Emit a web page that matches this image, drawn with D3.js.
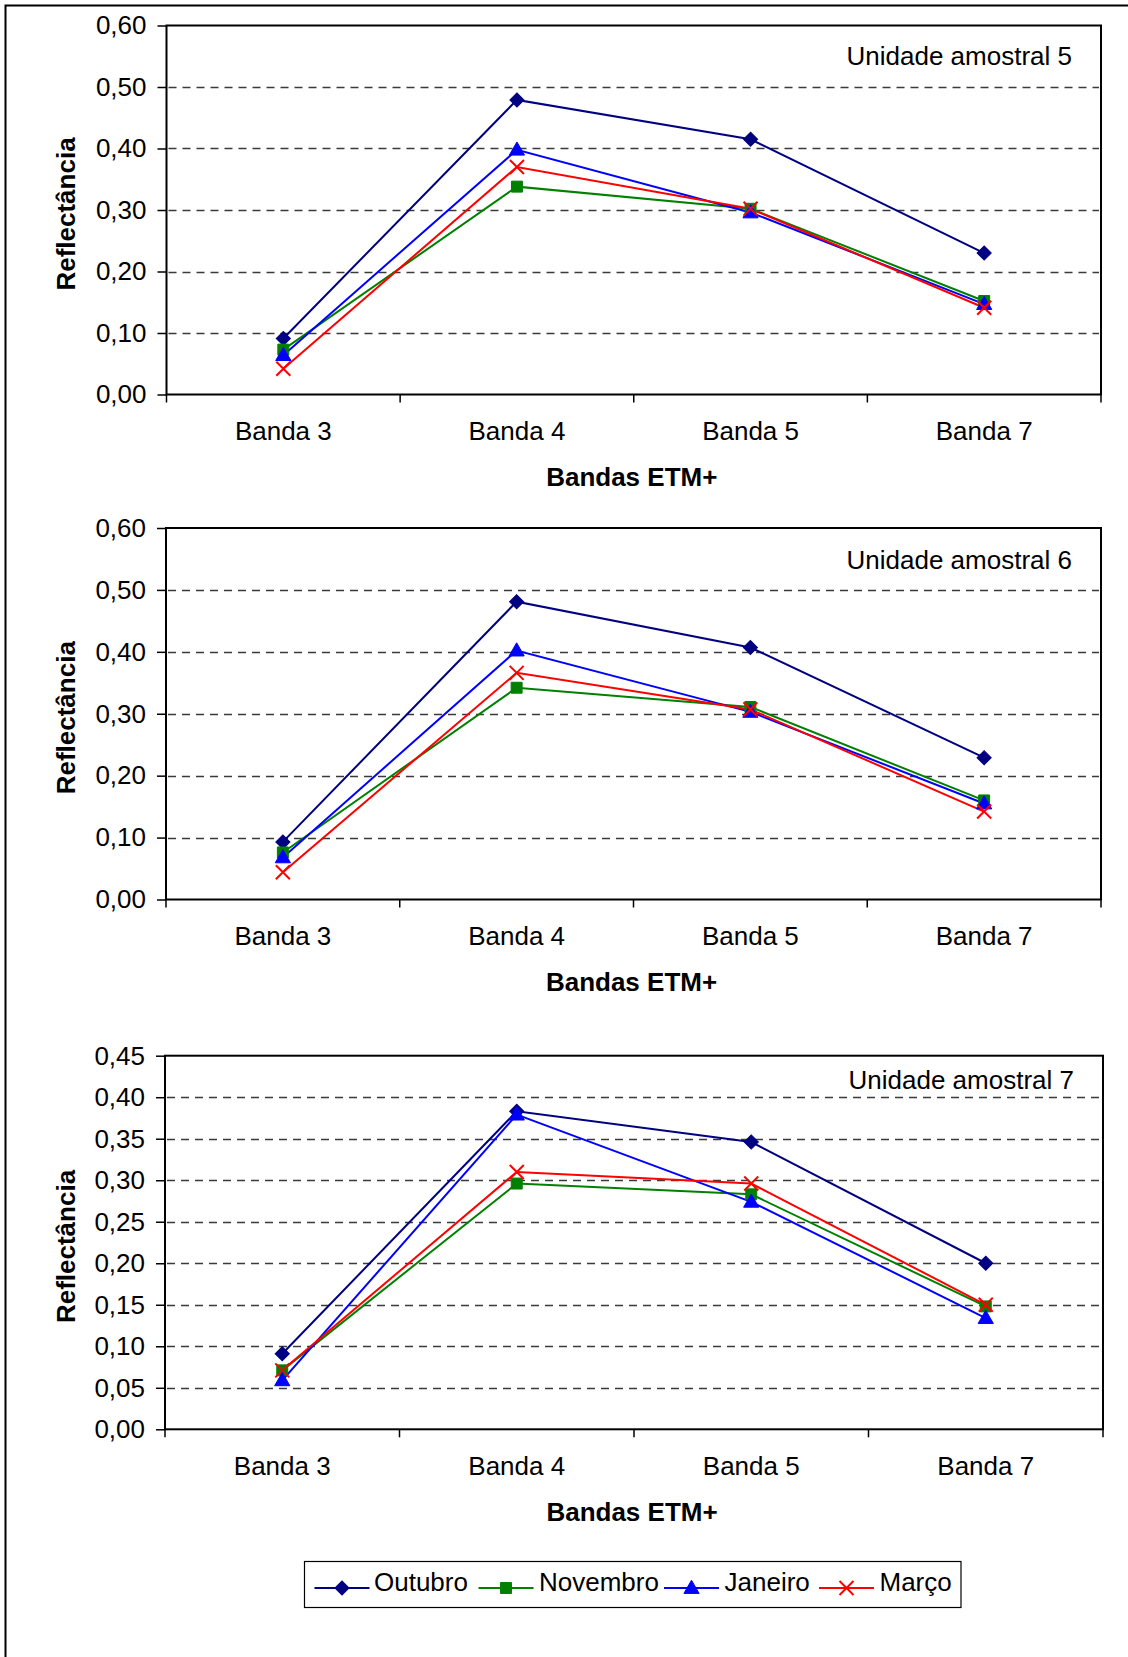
<!DOCTYPE html>
<html><head><meta charset="utf-8">
<script src="https://cdn.jsdelivr.net/npm/d3@7"></script>
<style>
html,body{margin:0;padding:0;background:#fff;}
svg{display:block;}
text{font-family:"Liberation Sans",Arial,sans-serif;fill:#000;}
</style></head>
<body>
<script>
// ---------- DATA ----------
const categories = ["Banda 3", "Banda 4", "Banda 5", "Banda 7"];
const seriesNames = ["Outubro", "Novembro", "Janeiro", "Março"];
const panelTitles = ["Unidade amostral 5", "Unidade amostral 6", "Unidade amostral 7"];
const yTicks56 = [0, 0.1, 0.2, 0.3, 0.4, 0.5, 0.6];
const yTicks7 = [0, 0.05, 0.10, 0.15, 0.20, 0.25, 0.30, 0.35, 0.40, 0.45];

// Unidade amostral 5
const u5_outubro  = [0.091, 0.479, 0.415, 0.230];
const u5_novembro = [0.073, 0.338, 0.302, 0.152];
const u5_janeiro  = [0.064, 0.398, 0.296, 0.147];
const u5_marco    = [0.042, 0.370, 0.302, 0.141];
// Unidade amostral 6
const u6_outubro  = [0.093, 0.481, 0.407, 0.229];
const u6_novembro = [0.076, 0.342, 0.311, 0.160];
const u6_janeiro  = [0.068, 0.402, 0.303, 0.155];
const u6_marco    = [0.044, 0.366, 0.307, 0.142];
// Unidade amostral 7
const u7_outubro  = [0.091, 0.383, 0.346, 0.200];
const u7_novembro = [0.071, 0.296, 0.283, 0.148];
const u7_janeiro  = [0.059, 0.379, 0.274, 0.134];
const u7_marco    = [0.071, 0.310, 0.296, 0.150];

const xTitle = "Bandas ETM+";
const yTitle = "Reflectância";

// ---------- STYLE / LAYOUT ----------
const W = 1128, H = 1657;
const colors = ["#000080", "#008000", "#0000FF", "#FF0000"];
const markers = ["diamond", "square", "triangle", "cross"];
const FS = 26;

const panels = [
  {title: panelTitles[0], data: [u5_outubro, u5_novembro, u5_janeiro, u5_marco], ticks: yTicks56, max: 0.6,
   left: 166.5, right: 1101, top: 25.5, bottom: 394.5, titleDy: 39.5},
  {title: panelTitles[1], data: [u6_outubro, u6_novembro, u6_janeiro, u6_marco], ticks: yTicks56, max: 0.6,
   left: 166, right: 1101, top: 528, bottom: 899.5, titleDy: 41},
  {title: panelTitles[2], data: [u7_outubro, u7_novembro, u7_janeiro, u7_marco], ticks: yTicks7, max: 0.45,
   left: 165, right: 1103, top: 1055.7, bottom: 1429.3, titleDy: 33.5}
];

const fmt = v => d3.format(".2f")(v).replace(".", ",");

const svg = d3.select("body").append("svg").attr("width", W).attr("height", H);
svg.append("rect").attr("width", W).attr("height", H).attr("fill", "#fff");
// outer frame (extends beyond the visible page on right and bottom)
svg.append("rect").attr("x", 5.5).attr("y", 5.5).attr("width", 1300).attr("height", 1800)
  .attr("fill", "none").attr("stroke", "#000").attr("stroke-width", 2);

function drawMarker(g, type, x, y, color) {
  if (type === "diamond") {
    g.append("path").attr("d", d3.symbol().type(d3.symbolSquare).size(100)())
      .attr("transform", `translate(${x},${y}) rotate(45)`).attr("fill", color).attr("stroke", color).attr("stroke-width", 1);
  } else if (type === "square") {
    g.append("path").attr("d", d3.symbol().type(d3.symbolSquare).size(120)())
      .attr("transform", `translate(${x},${y})`).attr("fill", color).attr("stroke", color).attr("stroke-width", 1);
  } else if (type === "triangle") {
    g.append("path").attr("d", d3.symbol().type(d3.symbolTriangle).size(100)())
      .attr("transform", `translate(${x},${y+1})`).attr("fill", color).attr("stroke", color).attr("stroke-width", 1);
  } else {
    const r = 7;
    g.append("path").attr("d", `M${x-r},${y-r}L${x+r},${y+r}M${x-r},${y+r}L${x+r},${y-r}`)
      .attr("stroke", color).attr("stroke-width", 2).attr("fill", "none");
  }
}

panels.forEach(p => {
  const x = d3.scaleBand().domain(categories).range([p.left, p.right]).paddingInner(0).paddingOuter(0);
  const y = d3.scaleLinear().domain([0, p.max]).range([p.bottom, p.top]);
  const g = svg.append("g");

  // gridlines
  g.selectAll("line.grid").data(p.ticks.filter(t => t > 0 && t < p.max - 1e-9)).enter()
    .append("line").attr("x1", p.left + 2).attr("x2", p.right - 2)
    .attr("y1", d => Math.round(y(d)) + 0.5).attr("y2", d => Math.round(y(d)) + 0.5)
    .attr("stroke", "#3a3a3a").attr("stroke-width", 1.5).attr("stroke-dasharray", "8,6");

  // plot border
  g.append("rect").attr("x", p.left).attr("y", p.top).attr("width", p.right - p.left).attr("height", p.bottom - p.top)
    .attr("fill", "none").attr("stroke", "#000").attr("stroke-width", 2);

  // y axis
  const yAxis = d3.axisLeft(y).tickValues(p.ticks).tickFormat(fmt).tickSize(9).tickPadding(11);
  const ya = g.append("g").attr("transform", `translate(${p.left},0)`).call(yAxis);
  ya.select(".domain").remove();
  ya.selectAll(".tick line").attr("stroke", "#000").attr("stroke-width", 1.5);
  ya.selectAll(".tick text").attr("font-size", FS).attr("font-family", "Liberation Sans, Arial, sans-serif").attr("fill", "#000");

  // x axis (ticks at category boundaries)
  const bounds = categories.map(c => x(c)).concat([p.right]);
  g.selectAll("line.xt").data(bounds).enter().append("line")
    .attr("x1", d => d).attr("x2", d => d).attr("y1", p.bottom).attr("y2", p.bottom + 8)
    .attr("stroke", "#000").attr("stroke-width", 1.5);
  g.selectAll("text.xl").data(categories).enter().append("text")
    .attr("x", d => x(d) + x.bandwidth() / 2).attr("y", p.bottom + 45.5)
    .attr("text-anchor", "middle").attr("font-size", FS).text(d => d);

  // axis titles
  g.append("text").attr("x", (p.left + p.right) / 2 - 2).attr("y", p.bottom + 91.5)
    .attr("text-anchor", "middle").attr("font-size", FS).attr("font-weight", "bold").text(xTitle);
  g.append("text").attr("transform", `translate(75,${(p.top + p.bottom) / 2 + 4}) rotate(-90)`)
    .attr("text-anchor", "middle").attr("font-size", FS).attr("font-weight", "bold").text(yTitle);

  // panel title
  g.append("text").attr("x", p.right - 29).attr("y", p.top + p.titleDy)
    .attr("text-anchor", "end").attr("font-size", FS).text(p.title);

  // series
  const line = d3.line().x((d, i) => x(categories[i]) + x.bandwidth() / 2).y(d => y(d));
  p.data.forEach((vals, si) => {
    g.append("path").datum(vals).attr("d", line).attr("fill", "none")
      .attr("stroke", colors[si]).attr("stroke-width", 2);
  });
  p.data.forEach((vals, si) => {
    vals.forEach((v, i) => drawMarker(g, markers[si], x(categories[i]) + x.bandwidth() / 2, y(v), colors[si]));
  });
});

// legend
const lg = svg.append("g");
lg.append("rect").attr("x", 304.5).attr("y", 1561.5).attr("width", 656.5).attr("height", 46)
  .attr("fill", "#fff").attr("stroke", "#000").attr("stroke-width", 1.2);
const legendItems = [
  {lx1: 314.5, lx2: 369.5, tx: 374},
  {lx1: 478.5, lx2: 533.5, tx: 539},
  {lx1: 664, lx2: 719, tx: 724.5},
  {lx1: 819, lx2: 874, tx: 879.5}
];
const ly = 1588;
seriesNames.forEach((name, i) => {
  const it = legendItems[i];
  lg.append("line").attr("x1", it.lx1).attr("x2", it.lx2).attr("y1", ly).attr("y2", ly)
    .attr("stroke", colors[i]).attr("stroke-width", 2);
  drawMarker(lg, markers[i], (it.lx1 + it.lx2) / 2, ly, colors[i]);
  lg.append("text").attr("x", it.tx).attr("y", ly + 3).attr("font-size", FS).text(name);
});
</script>
</body></html>
